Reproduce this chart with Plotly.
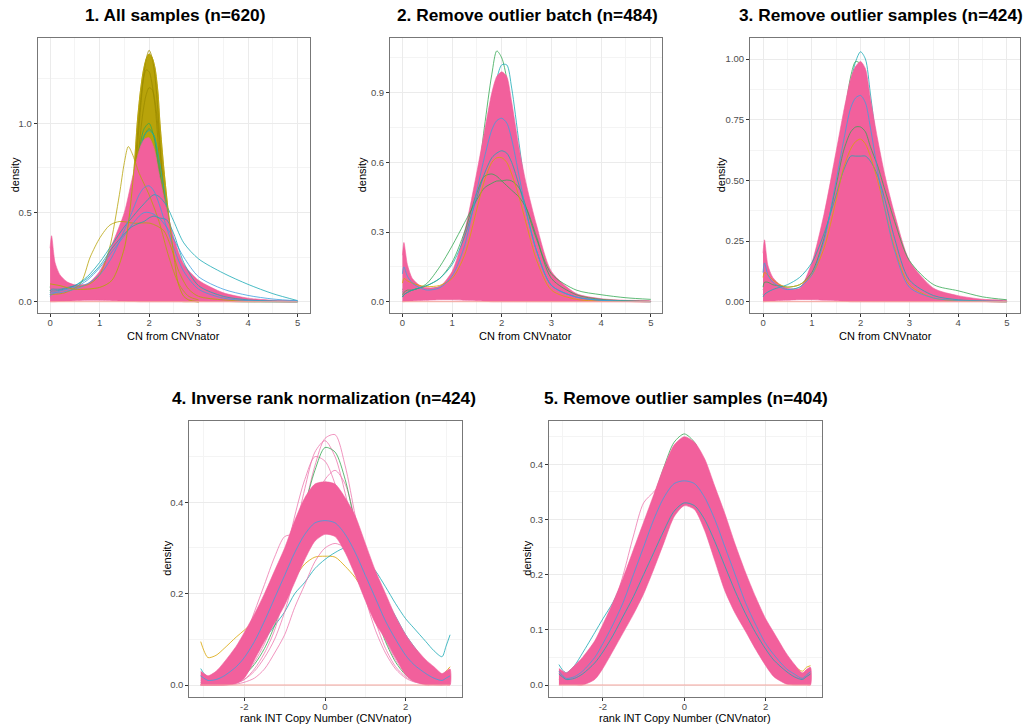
import plotly.graph_objects as go

# ---------------- colours (ggplot hue-like) ----------------
PINK = "#F2609C"
PINK_LT = "#EE78AE"
OLIVE = "#B8A30A"
OLIVE_DK = "#9C8C00"
GOLD = "#D9A400"
GREEN = "#35A853"
TEAL = "#19A9B5"
BLUE = "#3C9FE0"
SALMON = "#F5A49C"

# ---------------- panel 1 : All samples ----------------
P1_X = [0.0, 0.03, 0.1, 0.2, 0.35, 0.5, 0.75, 1.0, 1.25, 1.5, 1.65, 1.8, 1.9, 2.0, 2.1, 2.2, 2.35, 2.5, 2.7, 3.0, 3.5, 4.0, 4.5, 5.0]
P1_PINK_HI = [0.30, 0.37, 0.22, 0.15, 0.11, 0.095, 0.10, 0.17, 0.32, 0.50, 0.68, 0.85, 0.91, 0.92, 0.86, 0.72, 0.52, 0.36, 0.21, 0.12, 0.05, 0.02, 0.008, 0.003]
P1_PINK_LO = [0.0, 0.0, 0.0, 0.002, 0.004, 0.006, 0.008, 0.008, 0.006, 0.004, 0.002, 0.0, 0.0, 0.0, 0.0, 0.0, 0.0, 0.0, 0.0, 0.0, 0.0, 0.0, 0.0, 0.0]
P1_OLIVE_X = [0.0, 0.2, 0.5, 1.0, 1.25, 1.5, 1.6, 1.7, 1.76, 1.82, 1.88, 1.94, 2.0, 2.06, 2.12, 2.18, 2.22, 2.3, 2.39, 2.5, 2.59, 2.7, 2.8, 3.0]
P1_OLIVE_HI = [0.10, 0.09, 0.07, 0.08, 0.12, 0.30, 0.48, 0.76, 1.00, 1.17, 1.29, 1.36, 1.39, 1.37, 1.31, 1.17, 1.00, 0.74, 0.50, 0.26, 0.10, 0.03, 0.01, 0.0]
P1_OLIVE_LO = [0.02, 0.03, 0.03, 0.04, 0.06, 0.10, 0.15, 0.25, 0.35, 0.50, 0.65, 0.78, 0.85, 0.82, 0.72, 0.55, 0.40, 0.22, 0.10, 0.03, 0.005, 0.0, 0.0, 0.0]
P1_OLIVE_L1 = [0.08, 0.08, 0.06, 0.07, 0.10, 0.22, 0.38, 0.62, 0.85, 1.06, 1.24, 1.36, 1.41, 1.37, 1.26, 1.06, 0.88, 0.60, 0.36, 0.16, 0.06, 0.02, 0.005, 0.0]
P1_OLIVE_L2 = [0.09, 0.08, 0.07, 0.08, 0.11, 0.26, 0.44, 0.70, 0.92, 1.10, 1.24, 1.30, 1.29, 1.22, 1.10, 0.90, 0.74, 0.48, 0.28, 0.12, 0.04, 0.01, 0.003, 0.0]
P1_OLIVE_L3 = [0.07, 0.07, 0.06, 0.07, 0.10, 0.20, 0.34, 0.55, 0.75, 0.93, 1.07, 1.16, 1.20, 1.19, 1.12, 0.98, 0.85, 0.60, 0.38, 0.17, 0.06, 0.02, 0.005, 0.0]
P1_GREEN_A = [0.08, 0.10, 0.09, 0.08, 0.07, 0.065, 0.07, 0.09, 0.15, 0.32, 0.55, 0.85, 0.97, 1.00, 0.92, 0.72, 0.42, 0.20, 0.06, 0.01, 0.002, 0.0, 0.0, 0.0]
P1_GREEN_B = [0.06, 0.08, 0.08, 0.07, 0.065, 0.06, 0.065, 0.08, 0.13, 0.28, 0.50, 0.80, 0.93, 0.97, 0.93, 0.76, 0.46, 0.22, 0.07, 0.012, 0.002, 0.0, 0.0, 0.0]
P1_TEAL_A = [0.04, 0.05, 0.06, 0.06, 0.06, 0.06, 0.07, 0.10, 0.18, 0.36, 0.56, 0.82, 0.93, 0.96, 0.93, 0.80, 0.55, 0.32, 0.14, 0.04, 0.01, 0.003, 0.0, 0.0]
P1_BLUE_TAIL = [0.05, 0.06, 0.06, 0.065, 0.075, 0.09, 0.14, 0.22, 0.32, 0.42, 0.47, 0.52, 0.55, 0.58, 0.60, 0.59, 0.54, 0.45, 0.33, 0.24, 0.16, 0.097, 0.045, 0.006]
P1_BLUE_TAIL2 = [0.04, 0.05, 0.05, 0.06, 0.07, 0.08, 0.12, 0.19, 0.28, 0.37, 0.43, 0.48, 0.50, 0.50, 0.49, 0.47, 0.42, 0.35, 0.25, 0.14, 0.07, 0.035, 0.015, 0.005]
P1_TEAL_LOW = [0.06, 0.07, 0.07, 0.07, 0.08, 0.09, 0.13, 0.20, 0.30, 0.38, 0.42, 0.44, 0.45, 0.47, 0.48, 0.47, 0.46, 0.38, 0.22, 0.09, 0.03, 0.01, 0.004, 0.001]
P1_BLUE_MID = [0.03, 0.04, 0.05, 0.05, 0.06, 0.07, 0.10, 0.15, 0.25, 0.40, 0.50, 0.60, 0.64, 0.65, 0.62, 0.55, 0.42, 0.30, 0.17, 0.07, 0.02, 0.006, 0.002, 0.0]
P1_OW_X = [0.0, 0.3, 0.61, 0.81, 1.01, 1.21, 1.41, 1.7, 2.02, 2.29, 2.45, 2.6, 2.8, 3.0, 3.5, 4.0, 5.0]
P1_OW_Y = [0.04, 0.05, 0.10, 0.25, 0.36, 0.43, 0.45, 0.44, 0.44, 0.40, 0.30, 0.17, 0.07, 0.03, 0.01, 0.003, 0.0]
P1_OL_X = [0.5, 0.8, 1.0, 1.2, 1.4, 1.5, 1.58, 1.66, 1.8, 2.0, 2.2, 2.4, 2.6, 2.8, 3.0]
P1_OL_Y = [0.08, 0.10, 0.15, 0.30, 0.60, 0.78, 0.87, 0.83, 0.72, 0.60, 0.45, 0.25, 0.10, 0.03, 0.01]

# ---------------- panel 2 : Remove outlier batch ----------------
P2_X = P1_X
P2_PINK_HI = [0.20, 0.255, 0.16, 0.10, 0.07, 0.06, 0.065, 0.13, 0.30, 0.56, 0.73, 0.90, 0.97, 0.99, 0.97, 0.86, 0.66, 0.50, 0.33, 0.13, 0.035, 0.013, 0.006, 0.003]
P2_PINK_LO = [0.0, 0.0, 0.002, 0.003, 0.005, 0.006, 0.008, 0.008, 0.006, 0.004, 0.002, 0.0, 0.0, 0.0, 0.0, 0.0, 0.0, 0.0, 0.0, 0.0, 0.0, 0.0, 0.0, 0.0]
P2_GREEN_TALL = [0.05, 0.06, 0.06, 0.06, 0.055, 0.055, 0.065, 0.11, 0.25, 0.50, 0.75, 0.98, 1.08, 1.05, 0.96, 0.80, 0.55, 0.33, 0.15, 0.04, 0.01, 0.004, 0.002, 0.001]
P2_TEAL_TALL = [0.04, 0.05, 0.05, 0.05, 0.05, 0.05, 0.06, 0.10, 0.22, 0.45, 0.65, 0.85, 0.96, 1.02, 1.02, 0.92, 0.68, 0.45, 0.24, 0.07, 0.02, 0.008, 0.003, 0.001]
P2_GREEN_LOW = [0.02, 0.03, 0.04, 0.05, 0.06, 0.08, 0.15, 0.24, 0.34, 0.44, 0.49, 0.51, 0.52, 0.52, 0.524, 0.52, 0.49, 0.40, 0.27, 0.12, 0.05, 0.03, 0.017, 0.01]
P2_GREEN_MID = [0.03, 0.04, 0.05, 0.05, 0.06, 0.07, 0.10, 0.17, 0.30, 0.47, 0.54, 0.55, 0.54, 0.52, 0.50, 0.48, 0.45, 0.40, 0.28, 0.10, 0.03, 0.01, 0.004, 0.001]
P2_OLIVE_LOW = [0.08, 0.10, 0.09, 0.08, 0.07, 0.065, 0.07, 0.10, 0.20, 0.40, 0.52, 0.60, 0.62, 0.62, 0.60, 0.55, 0.45, 0.33, 0.18, 0.05, 0.01, 0.003, 0.001, 0.0]
P2_TEAL_LOW = [0.02, 0.03, 0.04, 0.05, 0.06, 0.07, 0.10, 0.16, 0.28, 0.45, 0.55, 0.62, 0.64, 0.65, 0.64, 0.60, 0.50, 0.38, 0.22, 0.07, 0.02, 0.006, 0.002, 0.0]
P2_BLUE_MID = [0.12, 0.15, 0.11, 0.08, 0.06, 0.05, 0.06, 0.11, 0.24, 0.48, 0.62, 0.74, 0.78, 0.79, 0.77, 0.70, 0.54, 0.38, 0.22, 0.07, 0.02, 0.006, 0.002, 0.0]

# ---------------- panel 3 : Remove outlier samples ----------------
P3_X = P1_X
P3_PINK_HI = [0.20, 0.255, 0.15, 0.10, 0.07, 0.055, 0.055, 0.16, 0.36, 0.62, 0.78, 0.92, 0.97, 0.99, 0.96, 0.84, 0.67, 0.52, 0.36, 0.17, 0.055, 0.025, 0.01, 0.004]
P3_PINK_LO = [0.0, 0.0, 0.002, 0.003, 0.005, 0.006, 0.008, 0.008, 0.006, 0.004, 0.002, 0.0, 0.0, 0.0, 0.0, 0.0, 0.0, 0.0, 0.0, 0.0, 0.0, 0.0, 0.0, 0.0]
P3_TEAL_TALL = [0.03, 0.04, 0.04, 0.04, 0.04, 0.04, 0.05, 0.10, 0.24, 0.50, 0.70, 0.90, 0.99, 1.03, 1.00, 0.86, 0.62, 0.40, 0.20, 0.05, 0.01, 0.003, 0.001, 0.0]
P3_GREEN_TALL = [0.05, 0.06, 0.06, 0.06, 0.055, 0.05, 0.06, 0.12, 0.28, 0.55, 0.74, 0.93, 0.99, 0.98, 0.90, 0.74, 0.52, 0.33, 0.16, 0.05, 0.012, 0.004, 0.001, 0.0]
P3_TEAL_LOW = [0.02, 0.03, 0.04, 0.05, 0.06, 0.07, 0.10, 0.16, 0.28, 0.44, 0.54, 0.60, 0.60, 0.60, 0.60, 0.58, 0.52, 0.42, 0.26, 0.09, 0.025, 0.008, 0.003, 0.001]
P3_OLIVE_LOW = [0.10, 0.12, 0.11, 0.09, 0.07, 0.06, 0.07, 0.11, 0.22, 0.42, 0.55, 0.63, 0.66, 0.67, 0.65, 0.60, 0.50, 0.38, 0.22, 0.07, 0.015, 0.004, 0.001, 0.0]
P3_GREEN_TAIL = [0.06, 0.08, 0.08, 0.07, 0.065, 0.06, 0.07, 0.12, 0.26, 0.48, 0.62, 0.70, 0.72, 0.72, 0.70, 0.64, 0.56, 0.46, 0.33, 0.17, 0.07, 0.045, 0.02, 0.008]
P3_BLUE_MID = [0.12, 0.16, 0.11, 0.08, 0.06, 0.05, 0.06, 0.11, 0.25, 0.50, 0.66, 0.80, 0.84, 0.85, 0.82, 0.72, 0.54, 0.38, 0.21, 0.06, 0.015, 0.005, 0.002, 0.0]

# ---------------- panel 4 : Inverse rank normalization ----------------
P4_X = [-3.08, -3.0, -2.9, -2.7, -2.5, -2.2, -2.0, -1.75, -1.5, -1.25, -1.0, -0.75, -0.5, -0.25, 0.0, 0.25, 0.5, 0.75, 1.0, 1.25, 1.5, 1.75, 2.0, 2.2, 2.5, 2.7, 2.9, 3.0, 3.1]
P4_PINK_HI = [0.03, 0.025, 0.02, 0.03, 0.05, 0.085, 0.115, 0.155, 0.20, 0.25, 0.30, 0.36, 0.41, 0.44, 0.445, 0.44, 0.41, 0.37, 0.31, 0.25, 0.20, 0.15, 0.11, 0.085, 0.055, 0.04, 0.025, 0.03, 0.035]
P4_PINK_LO = [0.0, 0.0, 0.0, 0.0, 0.0, 0.004, 0.015, 0.055, 0.095, 0.135, 0.175, 0.225, 0.275, 0.315, 0.33, 0.325, 0.29, 0.24, 0.185, 0.135, 0.10, 0.06, 0.022, 0.008, 0.0, 0.0, 0.0, 0.0, 0.0]
P4_OLIVE = [0.095, 0.075, 0.06, 0.065, 0.08, 0.105, 0.12, 0.14, 0.16, 0.18, 0.20, 0.235, 0.265, 0.28, 0.282, 0.28, 0.26, 0.235, 0.20, 0.16, 0.12, 0.09, 0.065, 0.05, 0.035, 0.025, 0.02, 0.03, 0.04]
P4_TEAL_R = [0.02, 0.02, 0.015, 0.02, 0.025, 0.04, 0.05, 0.07, 0.10, 0.13, 0.16, 0.20, 0.225, 0.255, 0.275, 0.29, 0.30, 0.29, 0.275, 0.25, 0.215, 0.178, 0.145, 0.125, 0.095, 0.075, 0.062, 0.085, 0.11]
P4_TEAL_L = [0.036, 0.025, 0.018, 0.025, 0.04, 0.07, 0.10, 0.14, 0.19, 0.24, 0.29, 0.34, 0.38, 0.40, 0.41, 0.40, 0.38, 0.34, 0.29, 0.24, 0.19, 0.15, 0.11, 0.085, 0.05, 0.035, 0.022, 0.025, 0.03]
P4_PINK_TALL1 = [0.0, 0.0, 0.0, 0.0, 0.0, 0.004, 0.012, 0.035, 0.07, 0.12, 0.20, 0.30, 0.39, 0.48, 0.54, 0.548, 0.48, 0.37, 0.26, 0.17, 0.10, 0.055, 0.025, 0.012, 0.004, 0.002, 0.001, 0.002, 0.004]
P4_PINK_TALL2 = [0.0, 0.0, 0.0, 0.0, 0.002, 0.008, 0.02, 0.05, 0.09, 0.15, 0.23, 0.33, 0.43, 0.51, 0.535, 0.50, 0.42, 0.32, 0.22, 0.14, 0.08, 0.04, 0.018, 0.008, 0.003, 0.001, 0.001, 0.002, 0.003]
P4_PINK_TALL3 = [0.0, 0.0, 0.0, 0.0, 0.003, 0.01, 0.025, 0.06, 0.11, 0.18, 0.27, 0.37, 0.45, 0.50, 0.49, 0.44, 0.36, 0.27, 0.19, 0.12, 0.07, 0.035, 0.015, 0.007, 0.002, 0.001, 0.0, 0.001, 0.002]
P4_PINK_TALL4 = [0.0, 0.0, 0.0, 0.0, 0.001, 0.005, 0.012, 0.03, 0.06, 0.10, 0.16, 0.24, 0.32, 0.40, 0.45, 0.47, 0.44, 0.36, 0.27, 0.18, 0.11, 0.06, 0.03, 0.014, 0.005, 0.002, 0.001, 0.002, 0.004]
P4_GREEN_TALL = [0.005, 0.004, 0.003, 0.004, 0.006, 0.012, 0.022, 0.045, 0.08, 0.13, 0.20, 0.29, 0.39, 0.47, 0.52, 0.51, 0.45, 0.35, 0.25, 0.16, 0.095, 0.05, 0.022, 0.01, 0.004, 0.002, 0.001, 0.002, 0.003]
P4_PINK_LEFT = [0.01, 0.01, 0.01, 0.015, 0.03, 0.07, 0.10, 0.16, 0.22, 0.28, 0.325, 0.33, 0.34, 0.36, 0.37, 0.36, 0.33, 0.28, 0.22, 0.16, 0.11, 0.07, 0.04, 0.025, 0.012, 0.008, 0.005, 0.006, 0.008]
P4_PINK_LOW = [0.0, 0.0, 0.0, 0.0, 0.0, 0.002, 0.006, 0.015, 0.035, 0.07, 0.11, 0.17, 0.22, 0.27, 0.30, 0.31, 0.30, 0.27, 0.22, 0.16, 0.10, 0.06, 0.03, 0.015, 0.005, 0.002, 0.001, 0.002, 0.003]
P4_BLUE_MID = [0.02, 0.015, 0.01, 0.012, 0.02, 0.04, 0.06, 0.095, 0.14, 0.19, 0.24, 0.29, 0.33, 0.355, 0.36, 0.355, 0.33, 0.29, 0.24, 0.19, 0.14, 0.10, 0.065, 0.045, 0.025, 0.015, 0.01, 0.015, 0.02]

# ---------------- panel 5 : Remove outlier samples ----------------
P5_X = P4_X
P5_PINK_HI = [0.03, 0.026, 0.022, 0.035, 0.05, 0.08, 0.11, 0.15, 0.195, 0.245, 0.295, 0.345, 0.395, 0.435, 0.45, 0.44, 0.41, 0.36, 0.31, 0.255, 0.205, 0.16, 0.12, 0.095, 0.058, 0.038, 0.022, 0.028, 0.032]
P5_PINK_LO = [0.0, 0.0, 0.0, 0.0, 0.0, 0.01, 0.03, 0.062, 0.095, 0.128, 0.165, 0.21, 0.258, 0.305, 0.325, 0.318, 0.28, 0.225, 0.17, 0.13, 0.098, 0.065, 0.035, 0.015, 0.002, 0.0, 0.0, 0.0, 0.0]
P5_GREEN_TALL = [0.02, 0.015, 0.01, 0.015, 0.03, 0.06, 0.09, 0.135, 0.18, 0.23, 0.285, 0.34, 0.395, 0.44, 0.455, 0.44, 0.40, 0.35, 0.295, 0.24, 0.19, 0.14, 0.10, 0.075, 0.04, 0.025, 0.015, 0.02, 0.025]
P5_TEAL_LEFT = [0.037, 0.028, 0.022, 0.035, 0.058, 0.095, 0.12, 0.15, 0.19, 0.235, 0.28, 0.32, 0.35, 0.37, 0.375, 0.37, 0.35, 0.31, 0.26, 0.21, 0.16, 0.12, 0.085, 0.06, 0.035, 0.02, 0.012, 0.015, 0.018]
P5_TEAL_LOW = [0.02, 0.015, 0.01, 0.012, 0.02, 0.04, 0.06, 0.09, 0.125, 0.16, 0.20, 0.24, 0.28, 0.315, 0.33, 0.325, 0.30, 0.26, 0.215, 0.17, 0.13, 0.095, 0.065, 0.045, 0.025, 0.015, 0.01, 0.015, 0.02]
P5_OLIVE = [0.01, 0.008, 0.006, 0.01, 0.02, 0.04, 0.06, 0.09, 0.125, 0.165, 0.21, 0.26, 0.30, 0.33, 0.34, 0.335, 0.32, 0.29, 0.25, 0.21, 0.17, 0.135, 0.10, 0.08, 0.05, 0.035, 0.025, 0.032, 0.035]
P5_PINK_LEFT = [0.01, 0.01, 0.008, 0.015, 0.03, 0.06, 0.09, 0.14, 0.20, 0.27, 0.33, 0.35, 0.37, 0.39, 0.40, 0.39, 0.37, 0.33, 0.28, 0.23, 0.18, 0.13, 0.09, 0.07, 0.04, 0.025, 0.015, 0.02, 0.025]
P5_BLUE_MID = [0.025, 0.018, 0.012, 0.015, 0.025, 0.05, 0.075, 0.11, 0.15, 0.20, 0.25, 0.30, 0.34, 0.365, 0.37, 0.365, 0.34, 0.30, 0.25, 0.20, 0.15, 0.11, 0.075, 0.055, 0.03, 0.02, 0.012, 0.018, 0.024]

TITLES = ["1. All samples (n=620)", "2. Remove outlier batch (n=484)", "3. Remove outlier samples (n=424)",
          "4. Inverse rank normalization (n=424)", "5. Remove outlier samples (n=404)"]
XLAB_TOP = "CN from CNVnator"
XLAB_BOT = "rank INT Copy Number (CNVnator)"
YLAB = "density"

W, H = 1034, 727
# panel frames in pixels: (left, right, top, bottom)
FRAMES = [(37.7, 310, 37.7, 313), (390, 661.7, 37.7, 313), (750, 1020, 37.7, 313),
          (189.3, 461.7, 420.7, 696.7), (549, 821.7, 420.7, 696.7)]
TITLE_X = [175, 527, 881, 324, 686]
XRANGES = [[-0.25, 5.25], [-0.25, 5.22], [-0.267, 5.27], [-3.363, 3.388], [-3.324, 3.376]]
YRANGES = [[-0.0634, 1.4806], [-0.0487, 1.137], [-0.0466, 1.088], [-0.0256, 0.5787], [-0.0212, 0.479]]
XTICKS = [[0, 1, 2, 3, 4, 5]] * 3 + [[-2, 0, 2]] * 2
XTICKTEXT = [["0", "1", "2", "3", "4", "5"]] * 3 + [["-2", "0", "2"]] * 2
YTICKS = [[0, 0.5, 1.0], [0, 0.3, 0.6, 0.9], [0, 0.25, 0.5, 0.75, 1.0], [0, 0.2, 0.4], [0, 0.1, 0.2, 0.3, 0.4]]
YTICKTEXT = [["0.0", "0.5", "1.0"], ["0.0", "0.3", "0.6", "0.9"], ["0.00", "0.25", "0.50", "0.75", "1.00"],
             ["0.0", "0.2", "0.4"], ["0.0", "0.1", "0.2", "0.3", "0.4"]]
XMINOR = [0.5, 0.5, 0.5, 1, 1]
YMINOR = [0.25, 0.15, 0.125, 0.1, 0.05]
BASE_X = [[0, 5]] * 3 + [[-3.08, 3.1]] * 2

fig = go.Figure()


def band(i, xs, lo, hi, color):
    fig.add_trace(go.Scatter(
        x=list(xs) + list(xs)[::-1], y=list(hi) + list(lo)[::-1],
        fill="toself", fillcolor=color, mode="lines",
        line=dict(color=color, width=0.6, shape="spline", smoothing=0.7),
        xaxis="x" + str(i + 1), yaxis="y" + str(i + 1), hoverinfo="skip", showlegend=False))


def curve(i, xs, ys, color, width=0.8):
    fig.add_trace(go.Scatter(
        x=xs, y=ys, mode="lines",
        line=dict(color=color, width=width, shape="spline", smoothing=0.8),
        xaxis="x" + str(i + 1), yaxis="y" + str(i + 1), hoverinfo="skip", showlegend=False))


# panel 1
band(0, P1_OLIVE_X, P1_OLIVE_LO, P1_OLIVE_HI, OLIVE)
curve(0, P1_OLIVE_X, P1_OLIVE_L1, OLIVE_DK)
curve(0, P1_OLIVE_X, P1_OLIVE_L2, OLIVE_DK)
curve(0, P1_OLIVE_X, P1_OLIVE_L3, OLIVE_DK)
curve(0, P1_X, P1_GREEN_A, GREEN)
curve(0, P1_X, P1_GREEN_B, GREEN)
curve(0, P1_X, P1_TEAL_A, TEAL)
band(0, P1_X, P1_PINK_LO, P1_PINK_HI, PINK)
curve(0, P1_OW_X, P1_OW_Y, OLIVE)
curve(0, P1_OL_X, P1_OL_Y, OLIVE)
curve(0, P1_X, P1_BLUE_TAIL, TEAL)
curve(0, P1_X, P1_BLUE_TAIL2, BLUE)
curve(0, P1_X, P1_TEAL_LOW, TEAL)
curve(0, P1_X, P1_BLUE_MID, BLUE)
curve(0, P1_OLIVE_X, P1_OLIVE_HI, OLIVE, 0.9)

# panel 2
curve(1, P2_X, P2_GREEN_TALL, GREEN)
curve(1, P2_X, P2_TEAL_TALL, TEAL)
band(1, P2_X, P2_PINK_LO, P2_PINK_HI, PINK)
curve(1, P2_X, P2_GREEN_LOW, GREEN)
curve(1, P2_X, P2_GREEN_MID, GREEN)
curve(1, P2_X, P2_OLIVE_LOW, GOLD)
curve(1, P2_X, P2_TEAL_LOW, TEAL)
curve(1, P2_X, P2_BLUE_MID, BLUE)

# panel 3
curve(2, P3_X, P3_TEAL_TALL, TEAL)
curve(2, P3_X, P3_GREEN_TALL, GREEN)
band(2, P3_X, P3_PINK_LO, P3_PINK_HI, PINK)
curve(2, P3_X, P3_GREEN_TAIL, GREEN)
curve(2, P3_X, P3_TEAL_LOW, TEAL)
curve(2, P3_X, P3_OLIVE_LOW, GOLD)
curve(2, P3_X, P3_BLUE_MID, BLUE)

# panel 4
curve(3, P4_X, P4_OLIVE, GOLD)
curve(3, P4_X, P4_TEAL_R, TEAL)
curve(3, P4_X, P4_TEAL_L, TEAL)
curve(3, P4_X, P4_PINK_TALL1, PINK_LT)
curve(3, P4_X, P4_PINK_TALL2, PINK_LT)
curve(3, P4_X, P4_PINK_TALL3, PINK_LT)
curve(3, P4_X, P4_PINK_TALL4, PINK_LT)
curve(3, P4_X, P4_GREEN_TALL, GREEN)
curve(3, P4_X, P4_PINK_LEFT, PINK_LT)
curve(3, P4_X, P4_PINK_LOW, PINK_LT)
band(3, P4_X, P4_PINK_LO, P4_PINK_HI, PINK)
curve(3, P4_X, P4_BLUE_MID, BLUE)

# panel 5
curve(4, P5_X, P5_GREEN_TALL, GREEN)
curve(4, P5_X, P5_TEAL_LEFT, TEAL)
curve(4, P5_X, P5_PINK_LEFT, PINK_LT)
curve(4, P5_X, P5_OLIVE, GOLD)
band(4, P5_X, P5_PINK_LO, P5_PINK_HI, PINK)
curve(4, P5_X, P5_TEAL_LOW, TEAL)
curve(4, P5_X, P5_BLUE_MID, BLUE)

# zero-density baseline drawn last in every panel
for i in range(5):
    curve(i, BASE_X[i], [0, 0], SALMON, 1.0)

FONT = "Liberation Sans, Arial, sans-serif"
layout = dict(width=W, height=H, margin=dict(l=0, r=0, t=0, b=0),
              paper_bgcolor="white", plot_bgcolor="white", showlegend=False,
              font=dict(family=FONT))
tickfont = dict(family=FONT, size=9.5, color="#4D4D4D")
annotations = []
for i, (l, r, t, b) in enumerate(FRAMES):
    xd = [l / W, r / W]
    yd = [1 - b / H, 1 - t / H]
    common = dict(tickfont=tickfont, ticks="outside", ticklen=3, tickcolor="#333333", tickwidth=0.8,
                  showline=True, linecolor="#777777", linewidth=1, mirror=True,
                  showgrid=True, gridcolor="#EBEBEB", gridwidth=0.9, zeroline=False)
    layout["xaxis" + str(i + 1)] = dict(
        domain=xd, range=XRANGES[i], anchor="y" + str(i + 1),
        tickvals=XTICKS[i], ticktext=XTICKTEXT[i], ticklabelstandoff=-2,
        minor=dict(dtick=XMINOR[i], tick0=0, showgrid=True, gridcolor="#F4F4F4", gridwidth=0.5), **common)
    layout["yaxis" + str(i + 1)] = dict(
        domain=yd, range=YRANGES[i], anchor="x" + str(i + 1),
        tickvals=YTICKS[i], ticktext=YTICKTEXT[i],
        minor=dict(dtick=YMINOR[i], tick0=0, showgrid=True, gridcolor="#F4F4F4", gridwidth=0.5), **common)
    cx = (l + r) / 2
    cy = (t + b) / 2
    ty = 15 if i < 3 else 398
    annotations.append(dict(text="<b>" + TITLES[i] + "</b>", x=TITLE_X[i] / W, y=1 - ty / H,
                            xref="paper", yref="paper",
                            showarrow=False, xanchor="center", yanchor="middle",
                            font=dict(size=17.3, color="black", family=FONT)))
    xl_y = 335.5 if i < 3 else 717.5
    annotations.append(dict(text=XLAB_TOP if i < 3 else XLAB_BOT, x=cx / W, y=1 - xl_y / H,
                            xref="paper", yref="paper", showarrow=False, xanchor="center", yanchor="middle",
                            font=dict(size=11, color="black", family=FONT)))
    yl_x = [15, 362, 721, 167, 527][i]
    annotations.append(dict(text=YLAB, x=yl_x / W, y=1 - cy / H, xref="paper", yref="paper",
                            showarrow=False, xanchor="center", yanchor="middle", textangle=-90,
                            font=dict(size=11, color="black", family=FONT)))
layout["annotations"] = annotations
fig.update_layout(**layout)
fig.write_html("out.html", config={"displayModeBar": False},
               post_script="document.body.style.margin='0px';document.body.style.overflow='hidden';")
